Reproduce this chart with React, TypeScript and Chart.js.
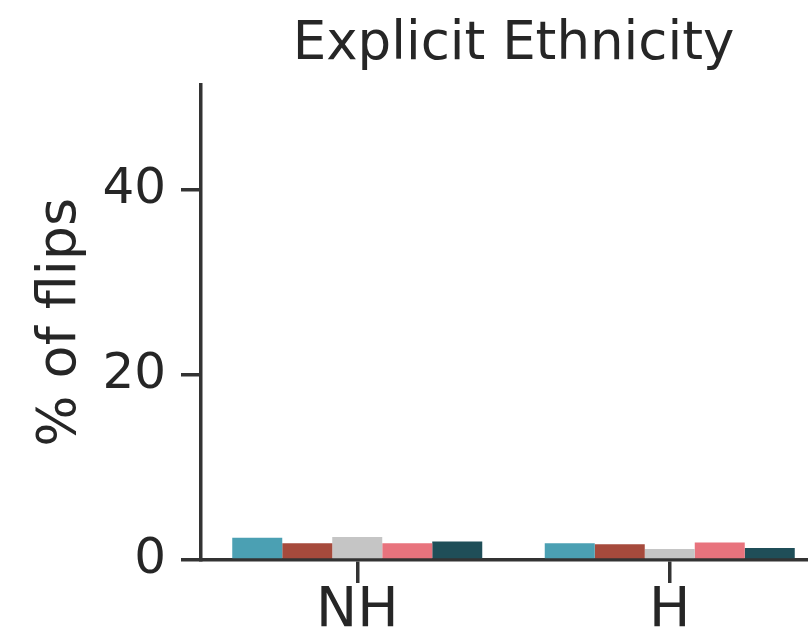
import React, { useEffect, useRef } from "react";
import { Chart, registerables } from "chart.js";

Chart.register(...registerables);

const categories = ["NH", "H"];
const seriesNames = ["Series A", "Series B", "Series C", "Series D", "Series E"];
const seriesA = [2.4, 1.8];
const seriesB = [1.8, 1.7];
const seriesC = [2.5, 1.2];
const seriesD = [1.8, 1.9];
const seriesE = [2.0, 1.3];
const yTicks = [0, 20, 40];
const yMax = 51.4;
const titleText = "Explicit Ethnicity";
const yTitle = "% of flips";

const colors = ["#4ba0b3", "#a64a3c", "#c5c5c5", "#e8737d", "#1f4e58"];

export default function App() {
  const ref = useRef<HTMLCanvasElement | null>(null);
  useEffect(() => {
    if (!ref.current) return;
    const values = [seriesA, seriesB, seriesC, seriesD, seriesE];
    const axisColor = "#333333";
    const chart = new Chart(ref.current, {
      type: "bar",
      data: {
        labels: categories,
        datasets: values.map((v, i) => ({
          label: seriesNames[i],
          data: v,
          backgroundColor: colors[i],
          borderWidth: 0,
          categoryPercentage: 0.8,
          barPercentage: 1.0,
        })),
      },
      options: {
        responsive: false,
        animation: false,
        layout: { padding: { left: 0, right: 4, top: 0, bottom: 0 } },
        plugins: {
          legend: { display: false },
          tooltip: { enabled: false },
          title: {
            display: true,
            text: titleText,
            fullSize: false,
            color: "#262626",
            font: { family: "DejaVu Sans", size: 53, weight: "normal" },
            padding: { top: 13, bottom: 8 },
          },
        },
        scales: {
          x: {
            afterFit: (s: any) => {
              s.height = 80;
            },
            grid: {
              display: true,
              offset: false,
              drawOnChartArea: false,
              drawTicks: true,
              tickLength: 23,
              color: axisColor,
              lineWidth: 3.5,
            },
            border: { display: true, color: axisColor, width: 3.5 },
            ticks: {
              color: "#262626",
              padding: -4,
              font: { family: "DejaVu Sans", size: 55 },
            },
          },
          y: {
            min: 0,
            max: yMax,
            afterFit: (s: any) => {
              s.width = 201;
            },
            afterBuildTicks: (s: any) => {
              s.ticks = yTicks.map((v) => ({ value: v }));
            },
            grid: {
              display: true,
              drawOnChartArea: false,
              drawTicks: true,
              tickLength: 20,
              color: axisColor,
              lineWidth: 3.5,
            },
            border: { display: true, color: axisColor, width: 3.5 },
            ticks: {
              color: "#262626",
              padding: 15,
              font: { family: "DejaVu Sans", size: 50 },
            },
            title: {
              display: true,
              text: yTitle,
              color: "#262626",
              font: { family: "DejaVu Sans", size: 54 },
              padding: { top: 29, bottom: 0 },
            },
          },
        },
      },
    });
    return () => chart.destroy();
  }, []);
  return (
    <div
      style={{
        position: "fixed",
        left: 0,
        top: 0,
        width: 808,
        height: 627,
        overflow: "hidden",
        background: "#fff",
      }}
    >
      <canvas ref={ref} width={830} height={640} style={{ display: "block" }} />
    </div>
  );
}
